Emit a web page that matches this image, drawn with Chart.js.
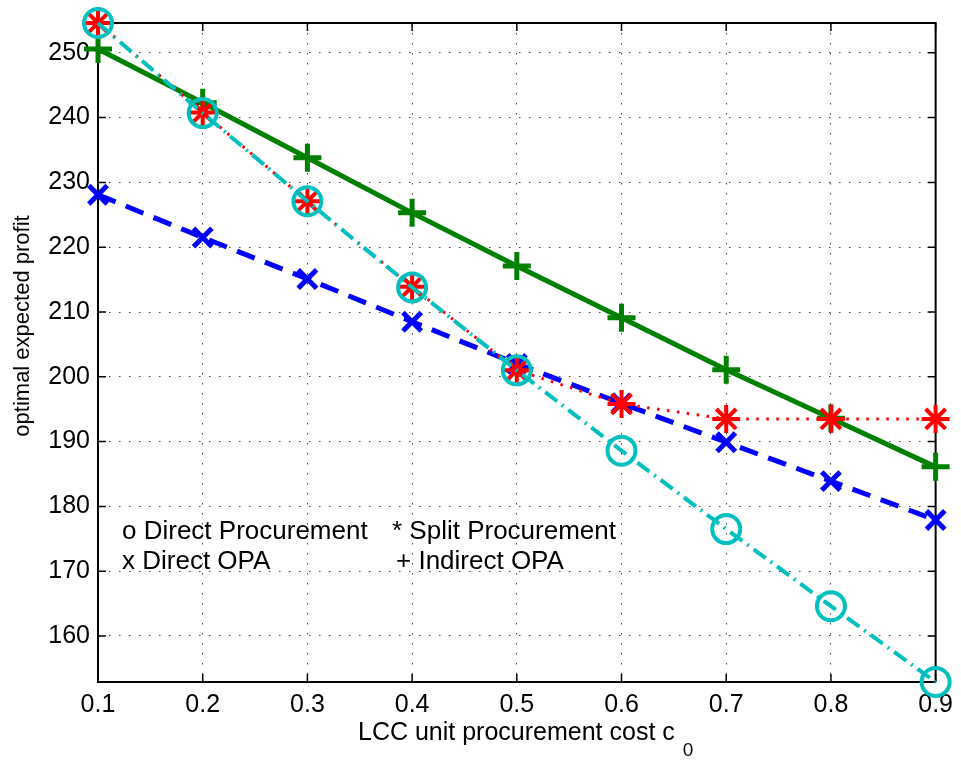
<!DOCTYPE html>
<html>
<head>
<meta charset="utf-8">
<script src="https://cdn.jsdelivr.net/npm/chart.js@4.4.0/dist/chart.umd.min.js"></script>
<style>
    html, body { margin: 0; padding: 0; background: #fff; }
</style>
</head>
<body>
<canvas id="myChart" width="961" height="761"></canvas>
<script>
// LCC unit procurement cost (x axis)
var costs = [0.1, 0.2, 0.3, 0.4, 0.5, 0.6, 0.7, 0.8, 0.9];

// optimal expected profit per strategy
var directProcurement = [254.6, 240.7, 227.1, 213.8, 201.0, 188.6, 176.5, 164.6, 152.9];
var splitProcurement  = [254.6, 240.8, 227.1, 213.9, 201.0, 195.8, 193.5, 193.5, 193.5];
var directOPA         = [228.1, 221.5, 215.1, 208.5, 202.0, 195.9, 189.9, 183.9, 177.9];
var indirectOPA       = [250.6, 242.3, 233.8, 225.3, 217.1, 209.1, 201.1, 193.6, 186.1];

var xTicks = [0.1, 0.2, 0.3, 0.4, 0.5, 0.6, 0.7, 0.8, 0.9];
var yTicks = [160, 170, 180, 190, 200, 210, 220, 230, 240, 250];

var FONT = '"Liberation Sans", Arial, sans-serif';

function points(ys) {
    var out = [];
    for (var i = 0; i < costs.length; i++) {
        out.push({x: costs[i], y: ys[i]});
    }
    return out;
}

// matlab style box: inward ticks on all four sides, plus the top/right edges
var matlabFrame = {
    id: 'matlabFrame',
    beforeDatasetsDraw: function(chart) {
        var ctx = chart.ctx;
        var a = chart.chartArea;
        var xs = chart.scales.x, ys = chart.scales.y;
        var len = 8;
        ctx.save();
        ctx.strokeStyle = '#000';
        ctx.lineWidth = 1.5;
        ctx.beginPath();
        xTicks.forEach(function(v) {
            var px = xs.getPixelForValue(v);
            ctx.moveTo(px, a.bottom); ctx.lineTo(px, a.bottom - len);
            ctx.moveTo(px, a.top); ctx.lineTo(px, a.top + len);
        });
        yTicks.forEach(function(v) {
            var py = ys.getPixelForValue(v);
            ctx.moveTo(a.left, py); ctx.lineTo(a.left + len, py);
            ctx.moveTo(a.right, py); ctx.lineTo(a.right - len, py);
        });
        ctx.stroke();
        ctx.lineWidth = 2;
        ctx.beginPath();
        ctx.moveTo(a.left, a.top); ctx.lineTo(a.right, a.top); ctx.lineTo(a.right, a.bottom);
        ctx.stroke();
        ctx.restore();
    },
    afterDraw: function(chart) {
        var ctx = chart.ctx;
        ctx.save();
        ctx.fillStyle = '#000';
        ctx.textBaseline = 'alphabetic';

        // text legend inside the axes
        ctx.font = '26px ' + FONT;
        ctx.textAlign = 'left';
        ctx.fillText('o Direct Procurement', 122, 539);
        ctx.fillText('* Split Procurement', 392, 539);
        ctx.fillText('x Direct OPA', 122, 569);
        ctx.fillText('+ Indirect OPA', 396, 569);

        // x label with subscript
        var lbl = 'LCC unit procurement cost c';
        ctx.font = '25px ' + FONT;
        ctx.fillText(lbl, 358, 740);
        var w = ctx.measureText(lbl).width;
        ctx.font = '19px ' + FONT;
        ctx.fillText('0', 358 + w + 8, 756);

        // y label
        ctx.translate(29, 326);
        ctx.rotate(-Math.PI / 2);
        ctx.textAlign = 'center';
        ctx.font = '22px ' + FONT;
        ctx.fillText('optimal expected profit', 0, 0);
        ctx.restore();
    }
};

var ctx = document.getElementById('myChart').getContext('2d');
var myChart = new Chart(ctx, {
    type: 'line',
    data: {
        datasets: [{
            label: 'Direct Procurement',
            data: points(directProcurement),
            borderColor: '#00BFBF',
            borderWidth: 4,
            borderDash: [15, 6, 2, 6],
            pointStyle: 'circle',
            pointRadius: 14,
            pointBorderWidth: 4,
            pointBorderColor: '#00BFBF',
            pointBackgroundColor: 'rgba(0,0,0,0)',
            order: 0
        }, {
            label: 'Split Procurement',
            data: points(splitProcurement),
            borderColor: '#FF0000',
            borderWidth: 3,
            borderDash: [2.5, 7.5],
            pointStyle: 'star',
            pointRadius: 14,
            pointBorderWidth: 4,
            pointBorderColor: '#FF0000',
            pointBackgroundColor: '#FF0000',
            order: 1
        }, {
            label: 'Direct OPA',
            data: points(directOPA),
            borderColor: '#0000FF',
            borderWidth: 5,
            borderDash: [19, 11],
            pointStyle: 'crossRot',
            pointRadius: 13,
            pointBorderWidth: 5,
            pointBorderColor: '#0000FF',
            order: 2
        }, {
            label: 'Indirect OPA',
            data: points(indirectOPA),
            borderColor: '#008000',
            borderWidth: 5,
            pointStyle: 'cross',
            pointRadius: 14,
            pointBorderWidth: 5,
            pointBorderColor: '#008000',
            order: 3
        }]
    },
    options: {
        responsive: false,
        animation: false,
        events: [],
        layout: { padding: { top: 19, right: 23, left: 0, bottom: 0 } },
        elements: { line: { tension: 0, fill: false } },
        datasets: { line: { clip: false } },
        plugins: {
            legend: { display: false },
            tooltip: { enabled: false }
        },
        scales: {
            x: {
                type: 'linear',
                min: 0.1,
                max: 0.9,
                afterBuildTicks: function(s) { s.ticks = xTicks.map(function(v) { return {value: v}; }); },
                afterFit: function(s) { s.height = 79; },
                ticks: {
                    color: '#000',
                    padding: 8,
                    maxRotation: 0,
                    font: { family: FONT, size: 25 },
                    callback: function(v) { return v.toFixed(1); }
                },
                grid: { color: '#444', lineWidth: 1, drawTicks: false },
                border: { display: true, color: '#000', width: 2, dash: [1.5, 8.5] }
            },
            y: {
                type: 'linear',
                min: 152.9,
                max: 254.6,
                afterBuildTicks: function(s) { s.ticks = yTicks.map(function(v) { return {value: v}; }); },
                afterFit: function(s) { s.width = 98; },
                ticks: {
                    color: '#000',
                    padding: 8,
                    font: { family: FONT, size: 25 },
                    callback: function(v) { return String(v); }
                },
                grid: { color: '#444', lineWidth: 1, drawTicks: false },
                border: { display: true, color: '#000', width: 2, dash: [1.5, 8.5] }
            }
        }
    },
    plugins: [matlabFrame]
});
</script>
</body>
</html>
